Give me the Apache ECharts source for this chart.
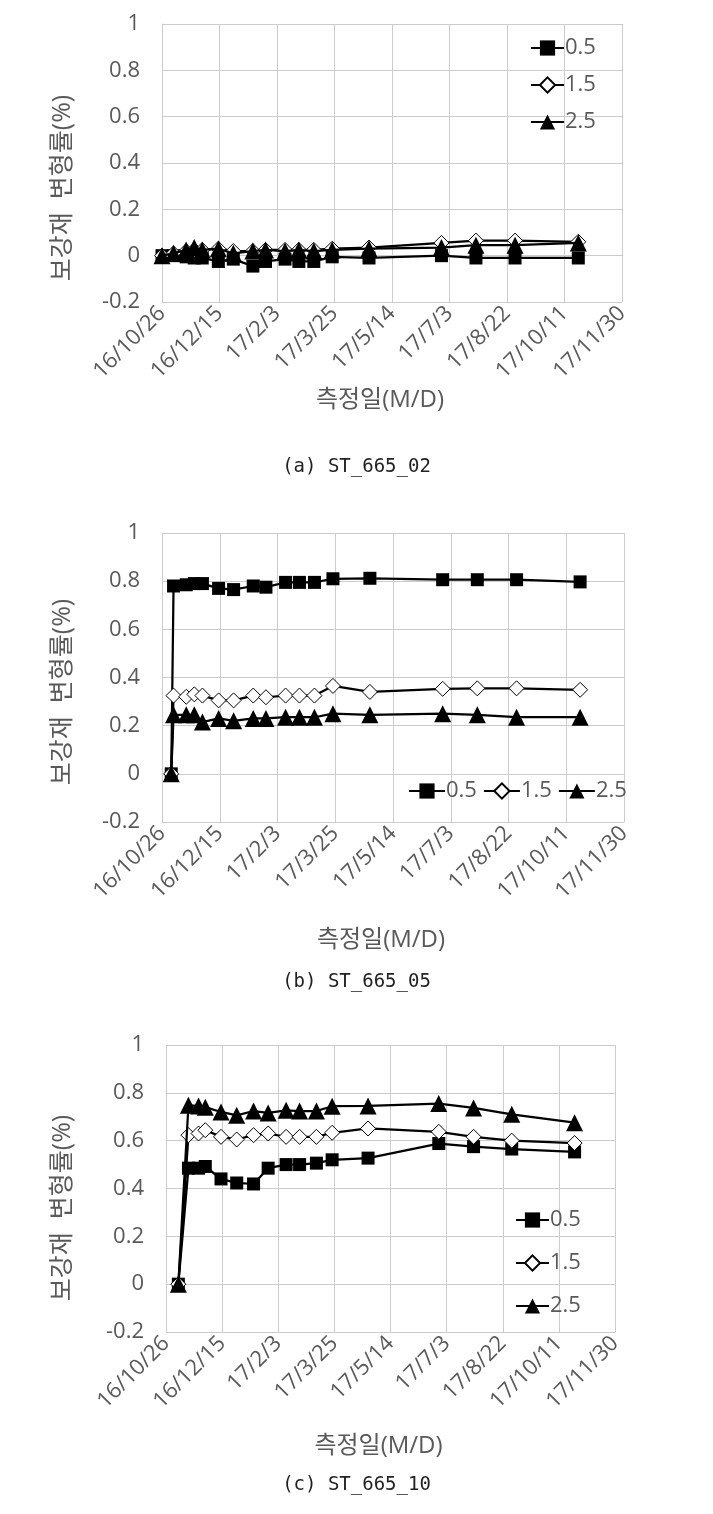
<!DOCTYPE html>
<html><head><meta charset="utf-8">
<script src="https://cdn.jsdelivr.net/npm/echarts@6/dist/echarts.min.js"></script>
<style>html,body{margin:0;padding:0;background:#fff}#c{width:713px;height:1514px}</style>
</head><body><div id="c"></div>
<script>
// ---- data ----
const seriesNames = ['0.5', '1.5', '2.5'];
const xTickLabels = ['16/10/26','16/12/15','17/2/3','17/3/25','17/5/14','17/7/3','17/8/22','17/10/11','17/11/30'];
const axisStartDate = '2016-10-26';
const captions = ['(a) ST_665_02', '(b) ST_665_05', '(c) ST_665_10'];
const xTitle = '측정일(M/D)';
const yTitle = '보강재  변형률(%)';

const datesA = ['2016-10-26','2016-11-05','2016-11-16','2016-11-23','2016-11-30','2016-12-14','2016-12-27','2017-01-13','2017-01-24','2017-02-10','2017-02-22','2017-03-07','2017-03-23','2017-04-24','2017-06-26','2017-07-26','2017-08-29','2017-10-23'];
const a05 = [0, 0, -0.005, -0.01, -0.01, -0.025, -0.015, -0.045, -0.025, -0.015, -0.025, -0.025, -0.005, -0.01, 0, -0.01, -0.01, -0.01];
const a15 = [0, 0.01, 0.02, 0.025, 0.025, 0.03, 0.02, 0.02, 0.025, 0.025, 0.025, 0.025, 0.03, 0.035, 0.055, 0.065, 0.065, 0.06];
const a25 = [0, 0.01, 0.025, 0.035, 0.025, 0.03, 0.01, 0.02, 0.025, 0.02, 0.025, 0.02, 0.025, 0.03, 0.035, 0.045, 0.045, 0.055];

const datesB = ['2016-11-03','2016-11-05','2016-11-16','2016-11-23','2016-11-30','2016-12-14','2016-12-27','2017-01-13','2017-01-24','2017-02-10','2017-02-22','2017-03-07','2017-03-23','2017-04-24','2017-06-26','2017-07-26','2017-08-29','2017-10-23'];
const b05 = [0, 0.78, 0.785, 0.79, 0.79, 0.77, 0.765, 0.78, 0.775, 0.795, 0.795, 0.795, 0.81, 0.812, 0.806, 0.806, 0.806, 0.797];
const b15 = [0, 0.325, 0.32, 0.33, 0.325, 0.305, 0.305, 0.325, 0.318, 0.325, 0.325, 0.325, 0.365, 0.34, 0.353, 0.355, 0.355, 0.349];
const b25 = [0, 0.245, 0.245, 0.245, 0.215, 0.23, 0.22, 0.23, 0.23, 0.235, 0.235, 0.235, 0.25, 0.245, 0.25, 0.245, 0.235, 0.235];

const datesC = ['2016-11-06','2016-11-15','2016-11-24','2016-11-30','2016-12-14','2016-12-28','2017-01-12','2017-01-25','2017-02-10','2017-02-22','2017-03-09','2017-03-23','2017-04-24','2017-06-26','2017-07-27','2017-08-30','2017-10-25'];
const c05 = [0, 0.485, 0.485, 0.492, 0.44, 0.423, 0.419, 0.485, 0.5, 0.5, 0.506, 0.52, 0.527, 0.588, 0.575, 0.565, 0.553];
const c15 = [0, 0.623, 0.63, 0.644, 0.616, 0.605, 0.623, 0.63, 0.616, 0.616, 0.616, 0.633, 0.651, 0.637, 0.616, 0.6, 0.59];
const c25 = [0, 0.748, 0.745, 0.74, 0.72, 0.706, 0.724, 0.716, 0.727, 0.724, 0.724, 0.744, 0.745, 0.755, 0.737, 0.71, 0.675];

// ---- build ----
const DAY = 86400000;
const t0 = Date.parse(axisStartDate);
const toDay = d => (Date.parse(d) - t0) / DAY;
const pairs = (dates, vals) => dates.map((d, i) => [toDay(d), vals[i]]);

const FONT = "'Open Sans', 'Noto Sans CJK KR', sans-serif";
const GRAY = '#595959';
const GRIDC = '#cccccc';

const grids = [
  {left: 162, top: 24, width: 460, height: 278},
  {left: 162, top: 533, width: 462, height: 289},
  {left: 166, top: 1045, width: 449, height: 287}
];
const layout = [
  {xNameGap: 86, yTitleY: 188, captionY: 470},
  {xNameGap: 106, yTitleY: 692, captionY: 985},
  {xNameGap: 102, yTitleY: 1208, captionY: 1488}
];
const panels = [
  {dates: datesA, vals: [a05, a15, a25]},
  {dates: datesB, vals: [b05, b15, b25]},
  {dates: datesC, vals: [c05, c15, c25]}
];
const symbols = [
  {symbol: 'rect', size: 13, color: '#000'},
  {symbol: 'diamond', size: 15, color: '#fff'},
  {symbol: 'triangle', size: 17, color: '#000'}
];

const xAxes = [], yAxes = [], series = [], graphics = [];
grids.forEach((g, gi) => {
  xAxes.push({
    type: 'value', gridIndex: gi, min: 0, max: 400, interval: 50,
    name: xTitle, nameLocation: 'middle', nameGap: layout[gi].xNameGap,
    nameTextStyle: {color: GRAY, fontSize: 24, fontFamily: FONT, padding: [0, 24, 0, 0]},
    axisLine: {lineStyle: {color: GRIDC}}, axisTick: {show: false},
    axisLabel: {rotate: 45, color: GRAY, fontSize: 22, fontFamily: FONT, margin: 8,
      formatter: v => xTickLabels[Math.round(v / 50)]},
    splitLine: {show: true, lineStyle: {color: GRIDC, width: 1}}
  });
  yAxes.push({
    type: 'value', gridIndex: gi, min: -0.2, max: 1, interval: 0.2,
    axisLine: {show: true, lineStyle: {color: GRIDC}}, axisTick: {show: false},
    axisLabel: {color: GRAY, fontSize: 22, fontFamily: FONT, margin: 22,
      formatter: v => String(parseFloat(v.toFixed(1)))},
    splitLine: {show: true, lineStyle: {color: GRIDC, width: 1}}
  });
  panels[gi].vals.forEach((vals, si) => {
    series.push({
      type: 'line', name: seriesNames[si], xAxisIndex: gi, yAxisIndex: gi,
      data: pairs(panels[gi].dates, vals),
      symbol: symbols[si].symbol, symbolSize: symbols[si].size, showAllSymbol: true,
      lineStyle: {color: '#000', width: 2.25},
      itemStyle: {color: symbols[si].color, borderColor: '#000', borderWidth: symbols[si].symbol === 'diamond' ? 1 : 0},
      emphasis: {disabled: true}, z: 2 + si
    });
  });
  graphics.push({
    type: 'text', x: 63, y: layout[gi].yTitleY, rotation: Math.PI / 2, z: 10,
    style: {text: yTitle, fill: GRAY, font: "25px 'Open Sans', 'Noto Sans CJK KR', sans-serif",
      align: 'center', verticalAlign: 'middle'}
  });
  graphics.push({
    type: 'text', left: 'center', top: layout[gi].captionY - 12, z: 10,
    style: {text: captions[gi], fill: '#222', font: "19px 'DejaVu Sans Mono', 'Liberation Mono', monospace"}
  });
});

const legendText = {color: GRAY, fontSize: 22, fontFamily: FONT, lineHeight: 22, padding: [0, 0, 0, -4]};
const legends = [
  {orient: 'vertical', left: 530, top: 37, itemGap: 15, itemWidth: 33, itemHeight: 19,
   data: seriesNames.slice(), textStyle: legendText, padding: 0, selectedMode: false},
  {orient: 'horizontal', left: 408, top: 780, itemGap: 6, itemWidth: 36, itemHeight: 19,
   data: seriesNames.slice(), textStyle: legendText, padding: 0, selectedMode: false},
  {orient: 'vertical', left: 515, top: 1209, itemGap: 21, itemWidth: 33, itemHeight: 19,
   data: seriesNames.slice(), textStyle: legendText, padding: 0, selectedMode: false}
];

const chart = echarts.init(document.getElementById('c'), null, {renderer: 'canvas'});
chart.setOption({
  animation: false,
  backgroundColor: '#fff',
  grid: grids,
  xAxis: xAxes,
  yAxis: yAxes,
  legend: legends,
  series: series,
  graphic: graphics
});
</script></body></html>
